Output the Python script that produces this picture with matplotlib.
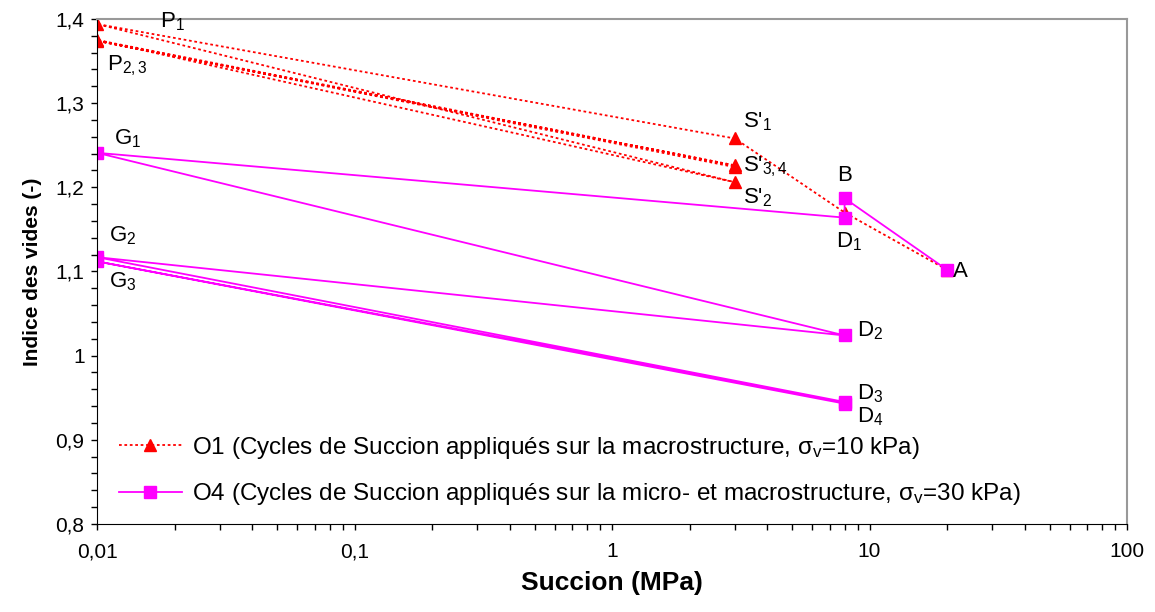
#%%
# Import
import numpy as np
import matplotlib.pyplot as plt
from matplotlib.ticker import FixedLocator, MultipleLocator, LogLocator, NullFormatter

plt.rcParams['font.family'] = ['Liberation Sans', 'DejaVu Sans']
plt.rcParams['mathtext.fontset'] = 'custom'
plt.rcParams['mathtext.rm'] = 'Liberation Sans'
plt.rcParams['mathtext.it'] = 'Liberation Sans:italic'
plt.rcParams['mathtext.bf'] = 'Liberation Sans:bold'


#%%
# Data

# O1 : A -> D1 -> S'1 -> P1 -> S'2 -> P2 -> S'3 -> P3 -> S'4
s_O1 = [20, 8, 3, 0.01, 3, 0.01, 3, 0.01, 3]
e_O1 = [1.102, 1.170, 1.258, 1.394, 1.206, 1.375, 1.226, 1.374, 1.224]

# O4 : A -> B -> D1 -> G1 -> D2 -> G2 -> D3 -> G3 -> D4
s_O4 = [20, 8, 8, 0.01, 8, 0.01, 8, 0.01, 8]
e_O4 = [1.102, 1.187, 1.164, 1.241, 1.024, 1.117, 0.945, 1.112, 0.943]

# point labels: (text, suction, void ratio, dx px, dy px, ha)
labels = [
    (r"P$_1$",      0.01, 1.394, 63,   2, 'left'),
    (r"P$_{2,3}$",  0.01, 1.375, 10, -26, 'left'),
    (r"S'$_1$",     3,    1.258, 8,   17, 'left'),
    (r"S'$_{3,4}$", 3,    1.226, 8,   -1, 'left'),
    (r"S'$_2$",     3,    1.206, 8,  -15, 'left'),
    (r"G$_1$",      0.01, 1.241, 17,  14, 'left'),
    (r"G$_2$",      0.01, 1.117, 12,  21, 'left'),
    (r"G$_3$",      0.01, 1.112, 12, -20, 'left'),
    ("B",           8,    1.187, 0,   23, 'center'),
    (r"D$_1$",      8,    1.164, -9, -24, 'left'),
    ("A",           20,   1.102, 6,   -2, 'left'),
    (r"D$_2$",      8,    1.024, 12,   5, 'left'),
    (r"D$_3$",      8,    0.945, 12,   8, 'left'),
    (r"D$_4$",      8,    0.943, 12, -13, 'left'),
]

y_ticks = [0.8, 0.9, 1.0, 1.1, 1.2, 1.3, 1.4]
y_ticklabels = ['0,8', '0,9', '1', '1,1', '1,2', '1,3', '1,4']
x_ticks = [0.01, 0.1, 1, 10, 100]
x_ticklabels = ['0,01', '0,1', '1', '10', '100']


#%%
# Plot

fig = plt.figure(figsize=(11.55, 6.12), dpi=100)
ax = fig.add_axes([0.084, 0.1438, 0.8918, 0.8252])

ax.plot(s_O1, e_O1, color='red', ls=(0, (1.5, 1.5)), lw=1.3,
        marker='^', ms=8.5, mec='red', mfc='red',
        label="O1 (Cycles de Succion appliqués sur la macrostructure, σ$_\\mathregular{v}$=10 kPa)")
ax.plot(s_O4, e_O4, color='magenta', ls='-', lw=1.3,
        marker='s', ms=8, mec='magenta', mfc='magenta',
        label="O4 (Cycles de Succion appliqués sur la micro- et macrostructure, σ$_\\mathregular{v}$=30 kPa)")

for txt, xs, ye, dx, dy, ha in labels:
    ax.annotate(txt, (xs, ye), xytext=(dx * 0.72, dy * 0.72), textcoords='offset points',
                ha=ha, va='center', fontsize=16)

ax.set_xscale('log')
ax.set_xlim(0.01, 100)
ax.set_ylim(0.8, 1.4)

ax.xaxis.set_major_locator(FixedLocator(x_ticks))
ax.set_xticklabels(x_ticklabels)
ax.xaxis.set_minor_locator(LogLocator(base=10, subs=np.arange(2, 10)))
ax.xaxis.set_minor_formatter(NullFormatter())
ax.yaxis.set_major_locator(FixedLocator(y_ticks))
ax.set_yticklabels(y_ticklabels)
ax.yaxis.set_minor_locator(MultipleLocator(0.02))

ax.tick_params(which='both', direction='out', length=4, width=1, labelsize=15)
ax.tick_params(axis='x', which='major', pad=9)
ax.tick_params(axis='y', which='major', pad=5)

for side in ['top', 'right']:
    ax.spines[side].set_color('#999999')
    ax.spines[side].set_linewidth(1.5)
for side in ['left', 'bottom']:
    ax.spines[side].set_color('black')

ax.set_xlabel("Succion (MPa)", fontsize=19, fontweight='bold', labelpad=7)
ax.set_ylabel("Indice des vides (-)", fontsize=15, fontweight='bold', labelpad=10)

ax.legend(loc='lower left', bbox_to_anchor=(0.0, -0.01), frameon=False, fontsize=17.5,
          handlelength=2.6, handletextpad=0.4, labelspacing=0.85)

fig.savefig('out.png', dpi=100)
